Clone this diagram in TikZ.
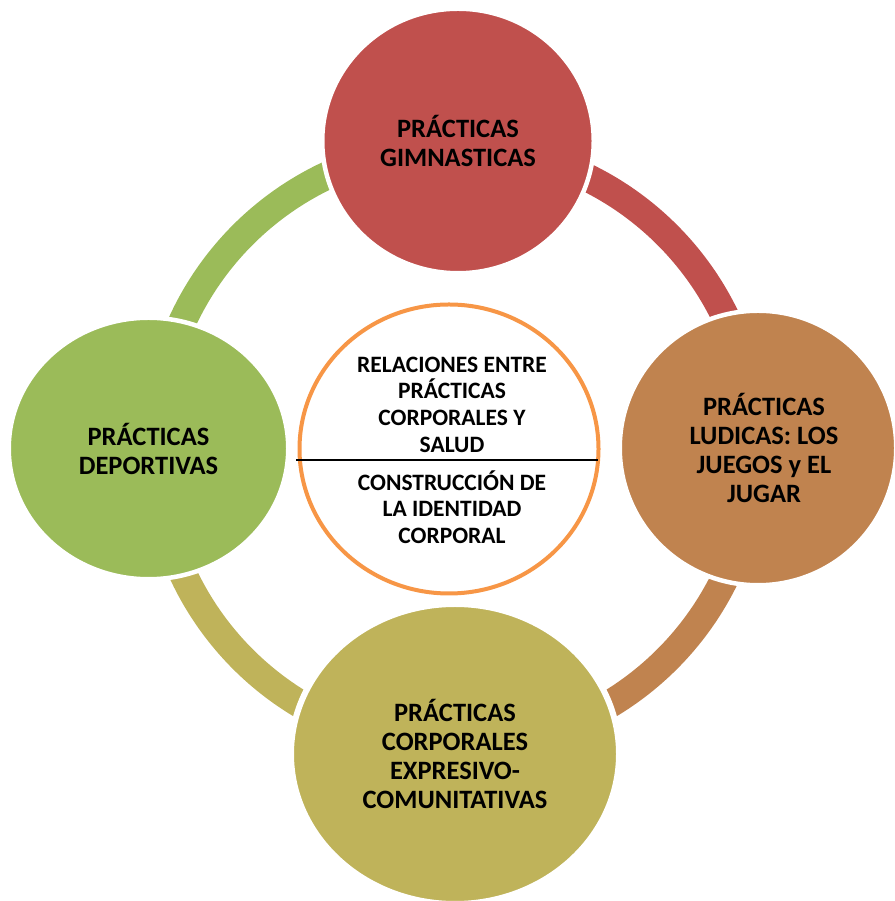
\documentclass[tikz,border=0pt]{standalone}
\usepackage{fontspec}
\setmainfont{Carlito}
\usetikzlibrary{shapes.geometric}
\definecolor{cred}{HTML}{C0504D}
\definecolor{cbrown}{HTML}{C0834F}
\definecolor{colive}{HTML}{BFB35A}
\definecolor{cgreen}{HTML}{9BBB59}
\definecolor{corange}{HTML}{F79646}
\begin{document}
\begin{tikzpicture}[x=1pt,y=1pt,
  sat/.style={ellipse, draw=white, line width=4.5pt, inner sep=0pt, align=center,
    font=\fontsize{26.5}{29}\selectfont\bfseries},
  band/.style={line width=28pt, line cap=butt},
  ctext/.style={align=center, inner sep=0pt, font=\fontsize{23.5}{26.7}\selectfont\bfseries}]
\useasboundingbox (0,0) rectangle (894,901);
\coordinate (o) at (455,454);
% ring segments
\draw[band, cred]   (o) ++(90:300)  arc[start angle=90,  end angle=0,    radius=300];
\draw[band, cbrown] (o) ++(0:300)   arc[start angle=0,   end angle=-90,  radius=300];
\draw[band, colive] (o) ++(-90:300) arc[start angle=-90, end angle=-180, radius=300];
\draw[band, cgreen] (o) ++(180:300) arc[start angle=180, end angle=90,   radius=300];
% satellites
\node[sat, fill=cred, minimum width=271.5pt, minimum height=264.5pt] (gim) at (458,760)
  {PRÁCTICAS\\GIMNASTICAS};
\node[sat, fill=cgreen, minimum width=279.5pt, minimum height=261.5pt] (dep) at (148.5,452.5)
  {PRÁCTICAS\\DEPORTIVAS};
\node[sat, fill=cbrown, minimum width=276.5pt, minimum height=274.5pt] (lud) at (758,453)
  {\hspace*{12pt}PRÁCTICAS\\\hspace*{12pt}LUDICAS: LOS\\\hspace*{12pt}JUEGOS y EL\\\hspace*{12pt}JUGAR};
\node[sat, fill=colive, line width=6pt, minimum width=328pt, minimum height=300pt] (exp) at (455,147)
  {PRÁCTICAS\\CORPORALES\\EXPRESIVO-\\COMUNITATIVAS};
% center
\node[ellipse, draw=corange, fill=white, line width=4pt, minimum width=299pt, minimum height=289pt] (ring) at (449,452) {};
\node[ctext] (top) at (452,496.5) {RELACIONES ENTRE\\PRÁCTICAS\\CORPORALES Y\\SALUD};
\node[ctext] (bot) at (452,394) {CONSTRUCCIÓN DE\\LA IDENTIDAD\\CORPORAL};
\coordinate (dl) at (296,441);
\coordinate (dr) at (598,441);
\draw[line width=1.5pt] (dl) -- (dr);
\end{tikzpicture}
\end{document}
